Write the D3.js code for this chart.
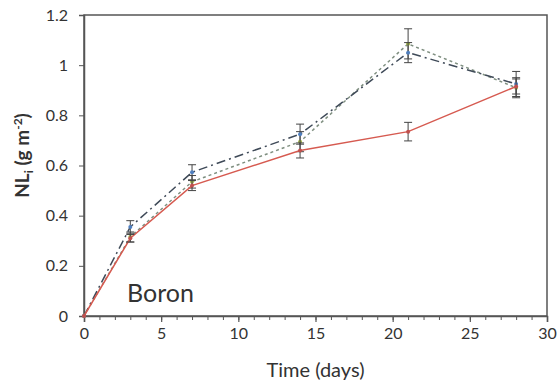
<!DOCTYPE html>
<html>
<head>
<meta charset="utf-8">
<script src="https://cdn.jsdelivr.net/npm/d3@7"></script>
<style>
    body { margin: 0; background: #fff; }
    text { font-family: Lato, "Open Sans", sans-serif; fill: #333; }
</style>
</head>
<body>
<div id="chart"></div>
<script>
const days = [0, 3, 7, 14, 21, 28];
const controlVals = [0, 0.31, 0.52, 0.66, 0.735, 0.915];
const controlErr = [0, 0.015, 0.02, 0.03, 0.037, 0.03];
const blueVals = [0, 0.355, 0.573, 0.725, 1.05, 0.925];
const blueErr = [0, 0.025, 0.03, 0.04, 0.04, 0.05];
const greenVals = [0, 0.315, 0.535, 0.695, 1.085, 0.91];
const greenErr = [0, 0.02, 0.025, 0.04, 0.06, 0.04];
const xTicks = [0, 5, 10, 15, 20, 25, 30];
const yTicks = [0, 0.2, 0.4, 0.6, 0.8, 1, 1.2];

const width = 559;
const height = 389;
const margin = { top: 15, right: 12, bottom: 73, left: 84 };

const svg = d3.select("#chart").append("svg")
    .attr("width", width)
    .attr("height", height);

const x = d3.scaleLinear()
    .domain([0, 30])
    .range([margin.left, width - margin.right]);

const y = d3.scaleLinear()
    .domain([0, 1.2])
    .range([height - margin.bottom, margin.top]);

// plot frame
svg.append("rect")
    .attr("x", x(0))
    .attr("y", y(1.2))
    .attr("width", x(30) - x(0))
    .attr("height", y(0) - y(1.2))
    .attr("fill", "none")
    .attr("stroke", "#555")
    .attr("stroke-width", 1.5);

// x axis with minor ticks
svg.append("g")
    .attr("transform", `translate(0, ${y(0)})`)
    .call(d3.axisBottom(x).tickValues(d3.range(0, 31, 1)).tickSize(4).tickFormat(""))
    .call(g => g.select(".domain").remove())
    .call(g => g.selectAll("line").attr("stroke", "#555"));

svg.append("g")
    .attr("transform", `translate(0, ${y(0)})`)
    .call(d3.axisBottom(x).tickValues(xTicks).tickSize(6).tickPadding(6).tickFormat(d3.format("d")))
    .call(g => g.select(".domain").attr("stroke", "#555").attr("stroke-width", 1.5))
    .call(g => g.selectAll("line").attr("stroke", "#555").attr("stroke-width", 1.2))
    .call(g => g.selectAll("text").attr("font-size", 16).attr("fill", "#333"));

svg.append("g")
    .attr("transform", `translate(${x(0)}, 0)`)
    .call(d3.axisLeft(y).tickValues(yTicks).tickSize(5).tickPadding(11).tickFormat(d => d3.format("")(+d.toFixed(1))))
    .call(g => g.select(".domain").attr("stroke", "#555").attr("stroke-width", 1.5))
    .call(g => g.selectAll("line").attr("stroke", "#555"))
    .call(g => g.selectAll("text").attr("font-size", 16).attr("fill", "#333"));

const series = [
    { vals: greenVals, err: greenErr, line: "#7f8f80", dash: "3,3", marker: "#a5b84a" },
    { vals: blueVals, err: blueErr, line: "#3f4a58", dash: "9,4,2,4", marker: "#4f7fbf" },
    { vals: controlVals, err: controlErr, line: "#d65a50", dash: null, marker: "#c0504d" }
];

const line = d3.line()
    .x(d => x(d[0]))
    .y(d => y(d[1]));

series.forEach(s => {
    const pts = days.map((d, i) => [d, s.vals[i], s.err[i]]);

    svg.append("path")
        .datum(pts)
        .attr("fill", "none")
        .attr("stroke", s.line)
        .attr("stroke-width", 1.5)
        .attr("stroke-dasharray", s.dash)
        .attr("d", line);

    const eb = svg.append("g")
        .attr("stroke", "#444")
        .attr("stroke-width", 1)
        .selectAll("g")
        .data(pts.filter(p => p[2] > 0))
        .join("g");

    eb.append("line")
        .attr("x1", d => x(d[0])).attr("x2", d => x(d[0]))
        .attr("y1", d => y(d[1] - d[2])).attr("y2", d => y(d[1] + d[2]));
    eb.append("line")
        .attr("x1", d => x(d[0]) - 4).attr("x2", d => x(d[0]) + 4)
        .attr("y1", d => y(d[1] + d[2])).attr("y2", d => y(d[1] + d[2]));
    eb.append("line")
        .attr("x1", d => x(d[0]) - 4).attr("x2", d => x(d[0]) + 4)
        .attr("y1", d => y(d[1] - d[2])).attr("y2", d => y(d[1] - d[2]));

    svg.append("g")
        .selectAll("circle")
        .data(pts)
        .join("circle")
        .attr("cx", d => x(d[0]))
        .attr("cy", d => y(d[1]))
        .attr("r", 2)
        .attr("fill", s.marker);
});

// labels
svg.append("text")
    .attr("x", 127)
    .attr("y", 302)
    .attr("font-size", 25)
    .attr("fill", "#222")
    .text("Boron");

svg.append("text")
    .attr("x", (x(0) + x(30)) / 2)
    .attr("y", 377)
    .attr("text-anchor", "middle")
    .attr("font-size", 20)
    .text("Time (days)");

const yl = svg.append("text")
    .attr("transform", `translate(29, ${(y(0) + y(1.2)) / 2 - 10}) rotate(-90)`)
    .attr("text-anchor", "middle")
    .attr("font-size", 19)
    .attr("font-weight", "bold");
yl.append("tspan").text("NL");
yl.append("tspan").attr("font-size", 12).attr("dy", 4).text("i");
yl.append("tspan").attr("dy", -4).text(" (g m");
yl.append("tspan").attr("font-size", 12).attr("dy", -7).text("-2");
yl.append("tspan").attr("dy", 7).text(")");
</script>
</body>
</html>
